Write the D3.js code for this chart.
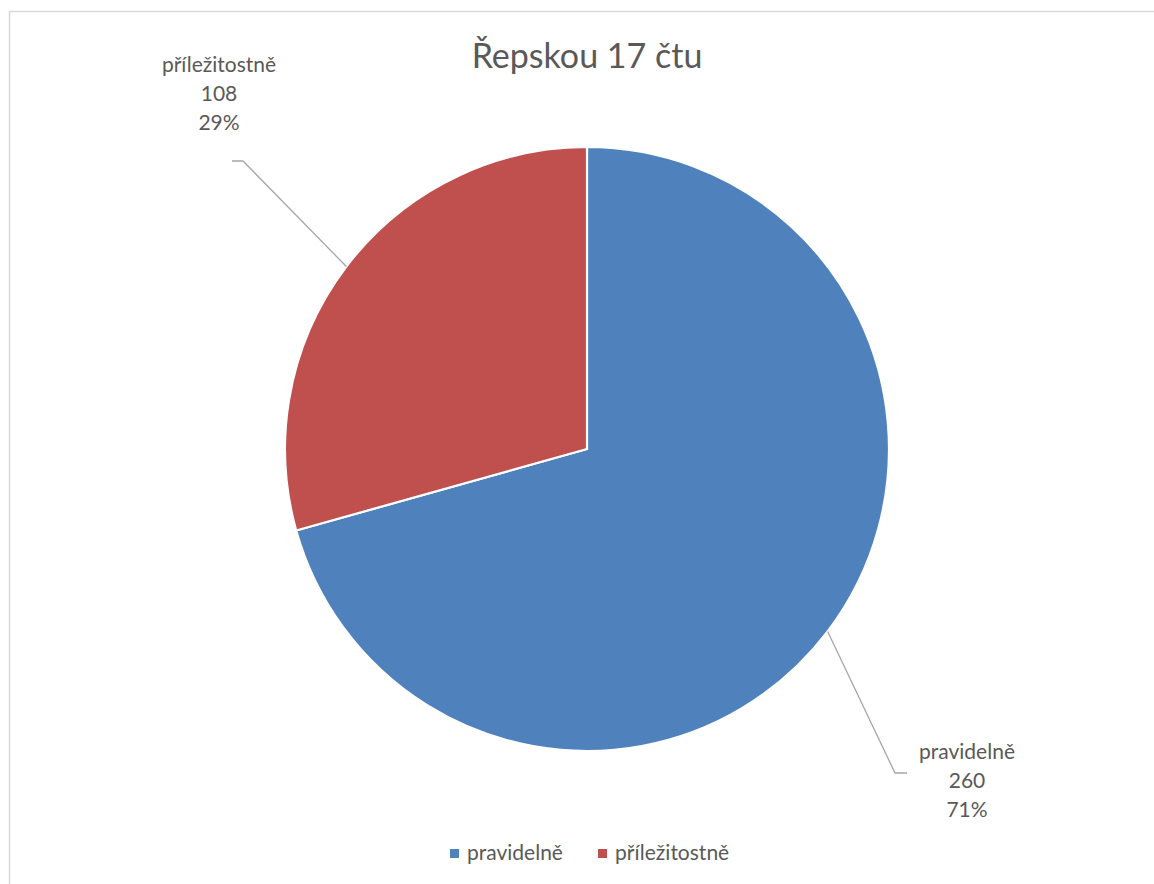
<!DOCTYPE html>
<html lang="cs">
<head>
<meta charset="utf-8">
<title>Řepskou 17 čtu</title>
<style>
body { margin: 0; background: #fff; font-family: Lato, "Open Sans", sans-serif; }
svg text { fill: #595959; }
</style>
<script src="https://cdn.jsdelivr.net/npm/d3@7"></script>
</head>
<body>
<div id="graf"></div>
<script>
// data
const kategorie = ["pravidelně", "příležitostně"];
const hodnoty = [260, 108];
const barvy = ["#4F81BD", "#C0504D"];
const nadpis = "Řepskou 17 čtu";

const width = 1154;
const height = 884;

const svg = d3.select("#graf").append("svg")
    .attr("width", width)
    .attr("height", height);

// ramecek grafu
svg.append("rect")
    .attr("x", 9.5).attr("y", 11.5)
    .attr("width", width + 20).attr("height", height + 20)
    .attr("fill", "none")
    .attr("stroke", "#d9d9d9")
    .attr("stroke-width", 1.5);

svg.append("text")
    .attr("x", 587).attr("y", 68)
    .attr("text-anchor", "middle")
    .style("font-size", "34px")
    .text(nadpis);

const cx = 587, cy = 449, r = 302;
const celkem = d3.sum(hodnoty);

const data = kategorie.map((k, i) => ({ nazev: k, hodnota: hodnoty[i], barva: barvy[i] }));

const pie = d3.pie().value(d => d.hodnota).sort(null);
const arc = d3.arc().innerRadius(0).outerRadius(r);
const oblouky = pie(data);

const g = svg.append("g").attr("transform", `translate(${cx},${cy})`);

g.selectAll("path.vysec")
    .data(oblouky)
    .enter().append("path")
    .attr("class", "vysec")
    .attr("d", arc)
    .attr("fill", d => d.data.barva)
    .attr("stroke", "#fff")
    .attr("stroke-width", 2.2)
    .attr("stroke-linejoin", "miter");

// popisky - rucne posunute jako v Excelu
const popisky = [
    { x: 967, y: 759, koleno: [895, 773], konec: [907, 773] },
    { x: 219, y: 72, koleno: [243, 161], konec: [232, 161] }
];

oblouky.forEach((o, i) => {
    const stred = (o.startAngle + o.endAngle) / 2;
    const sx = cx + r * Math.sin(stred);
    const sy = cy - r * Math.cos(stred);
    const p = popisky[i];

    svg.append("polyline")
        .attr("points", [[sx, sy], p.koleno, p.konec].map(b => b.join(",")).join(" "))
        .attr("fill", "none")
        .attr("stroke", "#a6a6a6")
        .attr("stroke-width", 1.3);

    const pct = Math.round(o.data.hodnota / celkem * 100) + "%";
    const t = svg.append("text")
        .attr("x", p.x).attr("y", p.y)
        .attr("text-anchor", "middle")
        .style("font-size", "21px");
    [o.data.nazev, o.data.hodnota, pct].forEach((s, j) => {
        t.append("tspan").attr("x", p.x).attr("dy", j === 0 ? 0 : 29).text(s);
    });
});

// legenda
const legendaX = [450, 598];
const leg = svg.append("g");
data.forEach((d, i) => {
    leg.append("rect")
        .attr("x", legendaX[i]).attr("y", 849)
        .attr("width", 9).attr("height", 9)
        .attr("fill", d.barva);
    leg.append("text")
        .attr("x", legendaX[i] + 17).attr("y", 860)
        .style("font-size", "21px")
        .text(d.nazev);
});
</script>
</body>
</html>
